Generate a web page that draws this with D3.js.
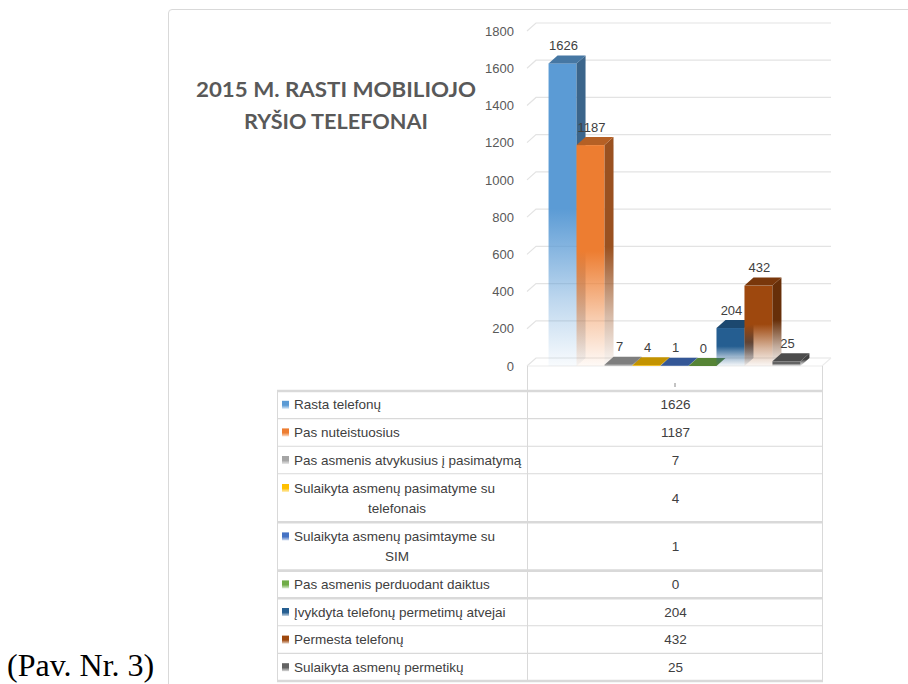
<!DOCTYPE html>
<html><head><meta charset="utf-8">
<script src="https://cdn.jsdelivr.net/npm/d3@7"></script>
<style>body{margin:0;background:#fff}svg{display:block}</style>
</head><body>
<svg id="c" width="908" height="684"></svg>
<script>
// ---------- data ----------
const categories = [""];
const seriesNames = [
  "Rasta telefonų",
  "Pas nuteistuosius",
  "Pas asmenis atvykusius į pasimatymą",
  "Sulaikyta asmenų pasimatyme su telefonais",
  "Sulaikyta asmenų pasimtayme su SIM",
  "Pas asmenis perduodant daiktus",
  "Įvykdyta telefonų permetimų atvejai",
  "Permesta telefonų",
  "Sulaikyta asmenų permetikų"
];
const seriesLabelLines = [
  ["Rasta telefonų"],
  ["Pas nuteistuosius"],
  ["Pas asmenis atvykusius į pasimatymą"],
  ["Sulaikyta asmenų pasimatyme su", "telefonais"],
  ["Sulaikyta asmenų pasimtayme su", "SIM"],
  ["Pas asmenis perduodant daiktus"],
  ["Įvykdyta telefonų permetimų atvejai"],
  ["Permesta telefonų"],
  ["Sulaikyta asmenų permetikų"]
];
const seriesValues = [1626, 1187, 7, 4, 1, 0, 204, 432, 25];
const seriesColors = ["#5B9BD5","#ED7D31","#A5A5A5","#FFC000","#4472C4","#70AD47","#255E91","#9E480E","#636363"];
const yTicks = [0, 200, 400, 600, 800, 1000, 1200, 1400, 1600, 1800];
const titleLines = ["2015 M. RASTI MOBILIOJO", "RYŠIO TELEFONAI"];
const captionText = "(Pav. Nr. 3)";

// ---------- layout ----------
const svg = d3.select("#c");
const defs = svg.append("defs");
const DX = 9, DY = -8;              // 3D depth offset
const plotL = 527, plotR = 822, floorY = 366, topY = 31;
const y = d3.scaleLinear().domain([0, 1800]).range([floorY, topY]);
const xCat = d3.scaleBand().domain(categories).range([plotL, plotR]);
const xSer = d3.scaleBand().domain(seriesNames).range([0, xCat.bandwidth()]).paddingInner(0).paddingOuter(0.77);
const labelFont = "'Liberation Sans', Arial, sans-serif";

// outer chart border
svg.append("path").attr("d", "M168.5,684 L168.5,13 Q168.5,9.5 172,9.5 L908,9.5")
  .attr("fill", "none").attr("stroke", "#d9d9d9").attr("stroke-width", 1);

// title
const titleG = svg.append("g").attr("fill", "#595959")
  .style("font-family", "Lato, 'Open Sans', sans-serif").style("font-weight", 700).style("font-size", "20.5px");
const titleWidths = [280, 184];
titleLines.forEach((t, i) => {
  titleG.append("text").attr("x", 336).attr("y", 97 + i * 32).attr("text-anchor", "middle")
    .attr("textLength", titleWidths[i]).attr("lengthAdjust", "spacingAndGlyphs").text(t);
});

// caption
svg.append("text").attr("x", 7).attr("y", 676).attr("fill", "#000")
  .style("font-family", "'Liberation Serif', 'Times New Roman', serif").style("font-size", "32px")
  .text(captionText);

// gridlines (back wall + side wall)
const gridG = svg.append("g").attr("fill", "none").attr("stroke", "#e3e3e3").attr("stroke-width", 1.2);
yTicks.forEach(v => {
  const yy = y(v);
  gridG.append("path").attr("d", `M${plotL},${yy} L${plotL + DX},${yy + DY} L${plotR + DX},${yy + DY}`);
});
// floor front edge
gridG.append("path").attr("d", `M${plotL},${floorY} L${plotR},${floorY} L${plotR + DX},${floorY + DY}`).attr("stroke", "#ececec");

// y axis labels via d3 axis
const yAxis = d3.axisLeft(y).tickValues(yTicks).tickSize(0).tickPadding(0).tickFormat(d3.format("d"));
const yAxG = svg.append("g").attr("transform", "translate(514,0)").call(yAxis);
yAxG.select(".domain").remove();
yAxG.selectAll("text").attr("fill", "#595959").style("font-family", labelFont).style("font-size", "13px");

// gradients
function addGrad(id, color) {
  const g = defs.append("linearGradient").attr("id", id).attr("x1", 0).attr("y1", 0).attr("x2", 0).attr("y2", 1);
  g.append("stop").attr("offset", 0).attr("stop-color", color).attr("stop-opacity", 1);
  g.append("stop").attr("offset", 0.48).attr("stop-color", color).attr("stop-opacity", 1);
  g.append("stop").attr("offset", 0.78).attr("stop-color", color).attr("stop-opacity", 0.4);
  g.append("stop").attr("offset", 1).attr("stop-color", color).attr("stop-opacity", 0.04);
}
seriesColors.forEach((c, i) => {
  addGrad("gf" + i, c);
  addGrad("gs" + i, d3.color(c).darker(1.2).formatHex());
  const sw = defs.append("linearGradient").attr("id", "sw" + i).attr("x1", 0).attr("y1", 0).attr("x2", 0).attr("y2", 1);
  sw.append("stop").attr("offset", 0).attr("stop-color", c);
  sw.append("stop").attr("offset", 0.55).attr("stop-color", c);
  sw.append("stop").attr("offset", 1).attr("stop-color", c).attr("stop-opacity", 0.25);
});

// bars
const barsG = svg.append("g");
seriesNames.forEach((name, i) => {
  const v = seriesValues[i];
  const x0 = xCat(categories[0]) + xSer(name);
  const x1 = x0 + xSer.bandwidth();
  const yt = y(v), yb = y(0);
  const c = seriesColors[i];
  const g = barsG.append("g");
  if (yb - yt > 0.01) {
    g.append("rect").attr("x", x0).attr("y", yt).attr("width", x1 - x0).attr("height", yb - yt).attr("fill", `url(#gf${i})`);
    g.append("path").attr("d", `M${x1},${yt} L${x1 + DX},${yt + DY} L${x1 + DX},${yb + DY} L${x1},${yb} Z`).attr("fill", `url(#gs${i})`);
  }
  g.append("path").attr("d", `M${x0},${yt} L${x0 + DX},${yt + DY} L${x1 + DX},${yt + DY} L${x1},${yt} Z`)
    .attr("fill", d3.color(c).darker(0.75).formatHex());
});

// value labels
const valG = svg.append("g").attr("fill", "#404040").style("font-family", labelFont).style("font-size", "13px").attr("text-anchor", "middle");
seriesNames.forEach((name, i) => {
  const x0 = xCat(categories[0]) + xSer(name);
  valG.append("text").attr("x", x0 + xSer.bandwidth() / 2 + 1).attr("y", y(seriesValues[i]) - 18)
    .attr("dominant-baseline", "central").text(seriesValues[i]);
});

// ---------- data table ----------
const tabL = 277, tabMid = plotL, tabR = plotR, tabTop = 391;
const rowH = seriesLabelLines.map(l => l.length === 1 ? 27.6 : 48.4);
const rowY = [tabTop];
rowH.forEach(h => rowY.push(rowY[rowY.length - 1] + h));
const thick = new Set([0, 4, 5, 6, 9]);
const tabG = svg.append("g").attr("stroke", "#d9d9d9").attr("fill", "none");
// header area vertical lines + tick
tabG.append("line").attr("x1", tabMid + 0.5).attr("x2", tabMid + 0.5).attr("y1", floorY).attr("y2", rowY[9]);
tabG.append("line").attr("x1", tabR + 0.5).attr("x2", tabR + 0.5).attr("y1", floorY).attr("y2", rowY[9]);
tabG.append("line").attr("x1", tabL + 0.5).attr("x2", tabL + 0.5).attr("y1", tabTop).attr("y2", rowY[9]);
tabG.append("line").attr("x1", xCat(categories[0]) + xCat.bandwidth() / 2 + 0.5).attr("x2", xCat(categories[0]) + xCat.bandwidth() / 2 + 0.5)
  .attr("y1", 383).attr("y2", 387).attr("stroke", "#888");
rowY.forEach((yy, k) => {
  tabG.append("line").attr("x1", tabL).attr("x2", tabR + 1).attr("y1", yy).attr("y2", yy)
    .attr("stroke-width", thick.has(k) ? 2.6 : 1.1);
});

const txtG = svg.append("g").attr("fill", "#404040").style("font-family", labelFont).style("font-size", "13.5px");
seriesLabelLines.forEach((lines, i) => {
  const cy = (rowY[i] + rowY[i + 1]) / 2;
  const firstY = lines.length === 1 ? cy : cy - 10;
  svg.append("rect").attr("x", 282).attr("y", firstY - 4).attr("width", 7).attr("height", 8).attr("fill", `url(#sw${i})`);
  txtG.append("text").attr("x", 294).attr("y", firstY).attr("dominant-baseline", "central").text(lines[0]);
  if (lines.length > 1) {
    txtG.append("text").attr("x", 397).attr("y", cy + 10).attr("text-anchor", "middle").attr("dominant-baseline", "central").text(lines[1]);
  }
  txtG.append("text").attr("x", (tabMid + tabR) / 2 + 1).attr("y", cy).attr("text-anchor", "middle")
    .attr("dominant-baseline", "central").text(seriesValues[i]);
});
</script>
</body></html>
